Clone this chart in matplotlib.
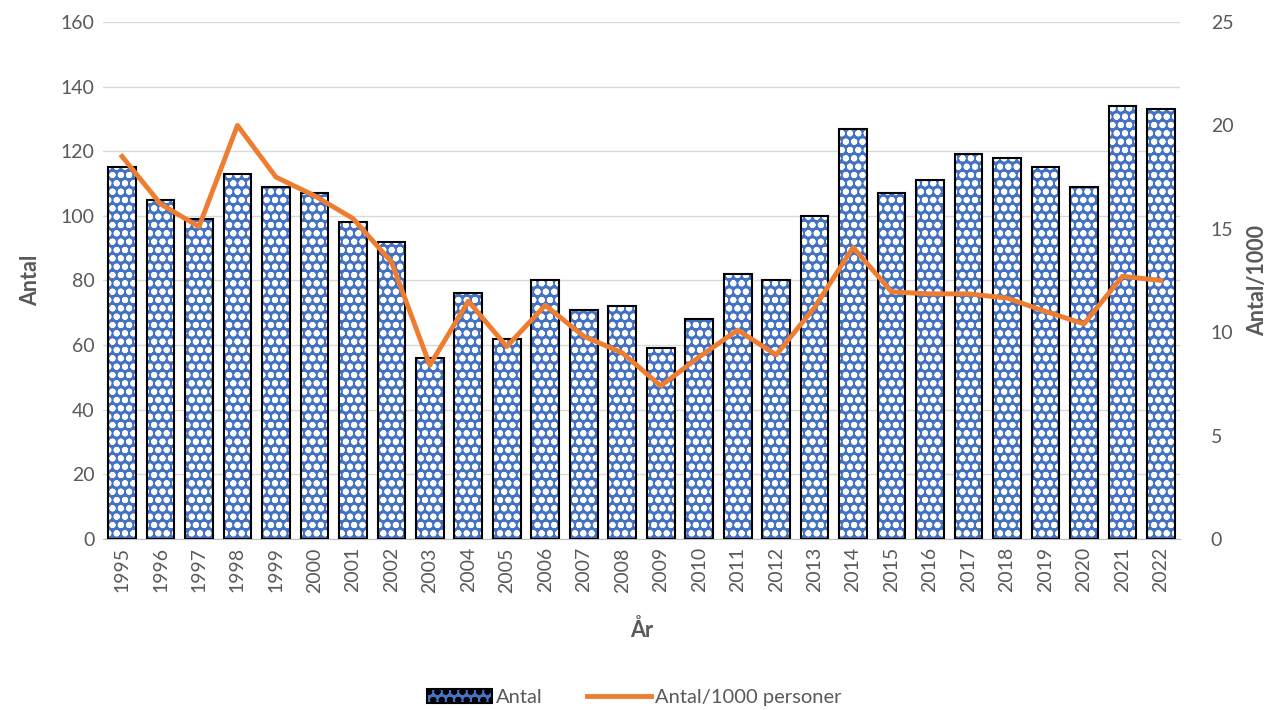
import numpy as np
import matplotlib.pyplot as plt
from matplotlib.patches import Patch
from matplotlib.lines import Line2D

years = [str(y) for y in range(1995, 2023)]
antal = [115, 105, 99, 113, 109, 107, 98, 92, 56, 76, 62, 80, 71, 72, 59,
         68, 82, 80, 100, 127, 107, 111, 119, 118, 115, 109, 134, 133]
per1000 = [18.5, 16.2, 15.1, 20.0, 17.5, 16.6, 15.5, 13.4, 8.4, 11.5, 9.3,
           11.3, 9.8, 9.0, 7.4, 8.8, 10.1, 8.9, 11.2, 14.1, 11.95, 11.85,
           11.85, 11.65, 11.0, 10.4, 12.7, 12.5]

plt.rcParams['font.family'] = ['Lato', 'DejaVu Sans']
plt.rcParams['hatch.linewidth'] = 2.0
grey = '#595959'
blue = '#4472C4'
orange = '#ED7D31'

fig = plt.figure(figsize=(12.69, 7.10), dpi=100)
ax = fig.add_axes([0.081, 0.241, 0.849, 0.728])
x = np.arange(len(years))

# patterned fill, then black outline on top
ax.bar(x, antal, width=0.72, color=blue, edgecolor='white', hatch='oo',
       linewidth=0, zorder=2)
ax.bar(x, antal, width=0.72, facecolor='none', edgecolor='black',
       linewidth=1.5, zorder=3)

ax.set_ylim(0, 160)
ax.set_yticks(range(0, 161, 20))
ax.set_xlim(-0.5, len(years) - 0.5)
ax.set_xticks(x)
ax.set_xticklabels(years, rotation=90)
ax.grid(axis='y', color='#D9D9D9', linewidth=1, zorder=0)
ax.set_axisbelow(True)
for s in ['top', 'right', 'left']:
    ax.spines[s].set_visible(False)
ax.spines['bottom'].set_color('#BFBFBF')
ax.tick_params(axis='both', length=0, colors=grey, labelsize=14, pad=6)
ax.set_ylabel('Antal', fontsize=15.5, fontweight='bold', color=grey, labelpad=14)
ax.set_xlabel('År', fontsize=15.5, fontweight='bold', color=grey, labelpad=19)

ax2 = ax.twinx()
ax2.plot(x, per1000, color=orange, linewidth=3.5, zorder=5)
ax2.set_ylim(0, 25)
ax2.set_yticks(range(0, 26, 5))
for s in ['top', 'right', 'left', 'bottom']:
    ax2.spines[s].set_visible(False)
ax2.tick_params(axis='y', length=0, colors=grey, labelsize=14, pad=22)
ax2.set_ylabel('Antal/1000', fontsize=15.5, fontweight='bold', color=grey, labelpad=10)

handles = [Patch(facecolor=blue, edgecolor='black', hatch='oo', linewidth=1.5),
           Line2D([0], [0], color=orange, linewidth=3.5)]
leg = fig.legend(handles, ['Antal', 'Antal/1000 personer'], loc='lower center',
                 bbox_to_anchor=(0.5, -0.02), ncol=2, frameon=False,
                 fontsize=14.5, handlelength=3.2, columnspacing=2.2, handletextpad=0.2)
for t in leg.get_texts():
    t.set_color(grey)

fig.savefig('out.png', dpi=100)
